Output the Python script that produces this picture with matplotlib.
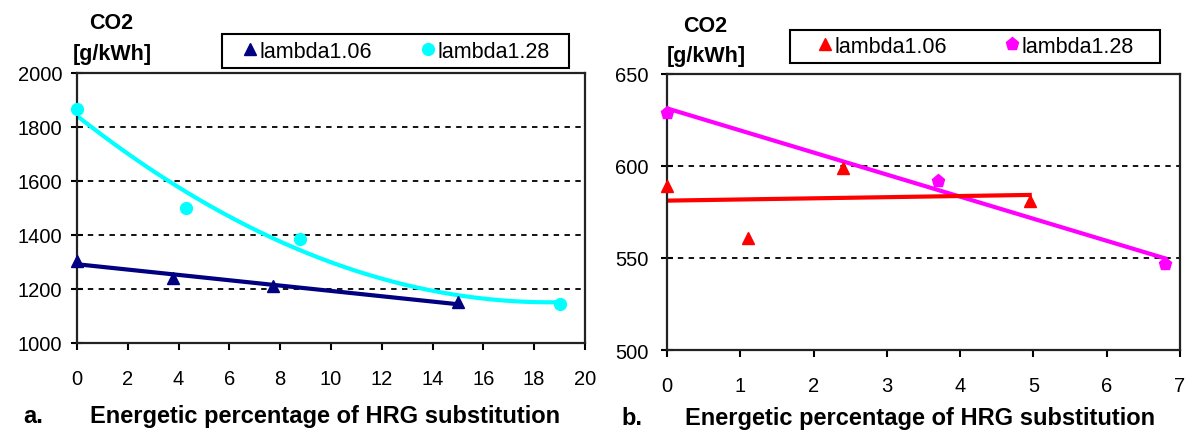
import numpy as np
import matplotlib
matplotlib.use('Agg')
import matplotlib.pyplot as plt
from matplotlib.patches import Rectangle

plt.rcParams['font.family'] = ['Liberation Sans', 'DejaVu Sans']

# panel a
a_x106 = [0, 3.8, 7.7, 15]
a_y106 = [1305, 1240, 1210, 1150]
a_x128 = [0, 4.3, 8.8, 19]
a_y128 = [1865, 1500, 1385, 1145]

# panel b
b_x106 = [0, 1.1, 2.4, 4.95]
b_y106 = [589, 561, 599, 581]
b_x128 = [0, 3.7, 6.8]
b_y128 = [629, 592, 547]

series_names = ['lambda1.06', 'lambda1.28']
xlabel = 'Energetic percentage of HRG substitution'

fig = plt.figure(figsize=(11.86, 4.35), dpi=100)
ax1 = fig.add_axes([0.0649, 0.2092, 0.4283, 0.6207])
ax2 = fig.add_axes([0.5624, 0.1931, 0.4325, 0.6345])


def trend(x, y, deg, n=200):
    c = np.polyfit(x, y, deg)
    xs = np.linspace(min(x), max(x), n)
    return xs, np.polyval(c, xs)


def style(ax, xlim, xticks, ylim, yticks, grid, ypad):
    ax.set_xlim(xlim)
    ax.set_ylim(ylim)
    ax.set_xticks(xticks)
    ax.set_yticks(yticks)
    for g in grid:
        ax.axhline(g, color='black', ls=(0, (3, 3)), lw=1.3, zorder=1)
    for s in ax.spines.values():
        s.set_linewidth(1.6)
        s.set_color('#222222')
    ax.tick_params(axis='x', direction='out', length=5, width=1.5, pad=14, labelsize=14.5)
    ax.tick_params(axis='y', direction='inout', length=9, width=1.5, pad=ypad, labelsize=14.5)


def framed_legend(ax, cx, cy, w, h, colsp):
    leg = ax.legend(loc='center', bbox_to_anchor=(cx, cy), bbox_transform=fig.transFigure,
                    ncol=2, frameon=False, fontsize=15.5, handletextpad=0.05,
                    columnspacing=colsp, handlelength=0.8, borderaxespad=0)
    fig.patches.append(Rectangle((cx - w / 2, cy - h / 2), w, h, transform=fig.transFigure,
                                 fill=False, edgecolor='black', lw=1.5))
    return leg


# panel a
xs, ys = trend(a_x128, a_y128, 2)
ax1.plot(xs, ys, color='#00ffff', lw=3, zorder=2)
xs, ys = trend(a_x106, a_y106, 1)
ax1.plot(xs, ys, color='#000080', lw=3, zorder=2)
ax1.plot(a_x106, a_y106, '^', color='#000080', ms=8.5, ls='none', label=series_names[0],
         zorder=3, clip_on=False)
ax1.plot(a_x128, a_y128, 'o', color='#00ffff', ms=8.5, ls='none', label=series_names[1],
         zorder=3, clip_on=False)
style(ax1, (0, 20), range(0, 21, 2), (1000, 2000), range(1000, 2001, 200),
      [1200, 1400, 1600, 1800], 6)
framed_legend(ax1, 0.3335, 0.880, 0.2926, 0.078, 2.2)

# panel b
xs, ys = trend(b_x128, b_y128, 1)
ax2.plot(xs, ys, color='#ff00ff', lw=3, zorder=2)
xs, ys = trend(b_x106, b_y106, 1)
ax2.plot(xs, ys, color='#ff0000', lw=3, zorder=2)
ax2.plot(b_x106, b_y106, '^', color='#ff0000', ms=8.5, ls='none', label=series_names[0],
         zorder=3, clip_on=False)
ax2.plot(b_x128, b_y128, 'p', color='#ff00ff', ms=9.5, ls='none', label=series_names[1],
         zorder=3, clip_on=False)
style(ax2, (0, 7), range(0, 8), (500, 650), range(500, 651, 50), [550, 600], 9)
framed_legend(ax2, 0.8221, 0.8908, 0.312, 0.0759, 2.6)

# unit labels above the y axes
fig.text(0.0935, 0.947, 'CO2', fontsize=15.5, fontweight='bold', ha='center', va='center')
fig.text(0.0945, 0.874, '[g/kWh]', fontsize=15.5, fontweight='bold', ha='center', va='center')
fig.text(0.5945, 0.938, 'CO2', fontsize=15.5, fontweight='bold', ha='center', va='center')
fig.text(0.5953, 0.869, '[g/kWh]', fontsize=15.5, fontweight='bold', ha='center', va='center')

fig.text(0.0194, 0.0414, 'a.', fontsize=17, fontweight='bold', va='center')
fig.text(0.274, 0.0414, xlabel, fontsize=17, fontweight='bold', ha='center', va='center')
fig.text(0.524, 0.039, 'b.', fontsize=17, fontweight='bold', va='center')
fig.text(0.776, 0.039, xlabel, fontsize=17, fontweight='bold', ha='center', va='center')

fig.savefig('out.png', dpi=100)
